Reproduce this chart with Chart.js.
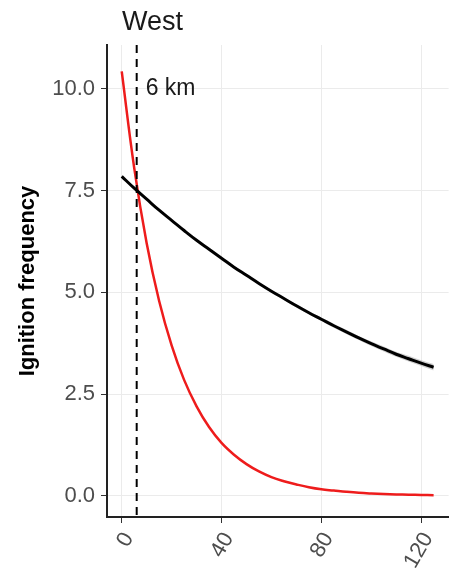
<!DOCTYPE html>
<html>
<head>
<meta charset="utf-8">
<script src="https://cdn.jsdelivr.net/npm/chart.js@4/dist/chart.umd.min.js"></script>
<style>
html,body{margin:0;padding:0;background:#fff;}
#wrap{width:449px;height:568px;position:relative;}
</style>
</head>
<body>
<div id="wrap"><canvas id="c" width="449" height="568"></canvas></div>
<script>
// Distance (km)
const distance = [0,5,10,15,20,25,30,35,40,45,50,55,60,65,70,75,80,85,90,95,100,105,110,115,120,125];
// Red curve (ignition frequency)
const redValues = [10.43,8.06,6.21,4.79,3.70,2.85,2.20,1.69,1.30,1.01,0.78,0.60,0.46,0.36,0.28,0.21,0.16,0.13,0.10,0.075,0.058,0.045,0.035,0.027,0.021,0.016];
// Black curve (ignition frequency)
const blackValues = [7.85,7.56,7.29,7.02,6.77,6.52,6.28,6.06,5.84,5.62,5.42,5.22,5.03,4.85,4.67,4.50,4.34,4.18,4.03,3.88,3.74,3.61,3.48,3.37,3.26,3.16];
// Black confidence band half-width
const blackBand = [0.02,0.02,0.02,0.02,0.02,0.02,0.02,0.02,0.02,0.03,0.03,0.03,0.03,0.03,0.04,0.04,0.04,0.05,0.05,0.05,0.06,0.06,0.06,0.07,0.07,0.08];
const xTicks = [0,40,80,120];
const yTicks = [0,2.5,5,7.5,10];
const cutoffKm = 6;
const panelTitle = "West";
const cutoffLabel = "6 km";
const yTitle = "Ignition frequency";

const pts = (vals) => distance.map((d,i)=>({x:d,y:vals[i]}));
const upper = pts(blackValues.map((v,i)=>v+blackBand[i]));
const lower = pts(blackValues.map((v,i)=>v-blackBand[i]));

const FONT = "'Liberation Sans', Arial, sans-serif";

const overlay = {
  id:'overlay',
  afterDatasetsDraw(chart){
    const {ctx, chartArea, scales} = chart;
    const x = scales.x.getPixelForValue(cutoffKm);
    ctx.save();
    ctx.beginPath();
    ctx.rect(chartArea.left, chartArea.top, chartArea.right-chartArea.left, chartArea.bottom-chartArea.top);
    ctx.clip();
    ctx.strokeStyle = '#000';
    ctx.lineWidth = 2;
    ctx.setLineDash([8,6]);
    ctx.beginPath();
    ctx.moveTo(x, chartArea.top);
    ctx.lineTo(x, chartArea.bottom);
    ctx.stroke();
    ctx.restore();
    ctx.save();
    ctx.fillStyle = '#1a1a1a';
    ctx.font = "23px " + FONT;
    ctx.textBaseline = 'middle';
    ctx.textAlign = 'left';
    ctx.fillText(cutoffLabel, x + 9, scales.y.getPixelForValue(10));
    ctx.restore();
  },
  afterDraw(chart){
    const {ctx, chartArea} = chart;
    ctx.save();
    ctx.fillStyle = '#1a1a1a';
    ctx.font = "27px " + FONT;
    ctx.textBaseline = 'alphabetic';
    ctx.textAlign = 'left';
    ctx.fillText(panelTitle, chartArea.left + 15, 30);
    ctx.restore();
  }
};

new Chart(document.getElementById('c'), {
  type:'line',
  data:{
    datasets:[
      {label:'band upper', order:3, data:upper, borderWidth:0, pointRadius:0, fill:false, tension:0.4, borderColor:'rgba(0,0,0,0)'},
      {label:'band lower', order:2, data:lower, borderWidth:0, pointRadius:0, fill:'-1', backgroundColor:'rgba(150,150,150,0.45)', tension:0.4, borderColor:'rgba(0,0,0,0)'},
      {label:'black', order:0, data:pts(blackValues), borderColor:'#000', borderWidth:3, pointRadius:0, fill:false, tension:0.4},
      {label:'red', order:1, data:pts(redValues), borderColor:'#ee1c1c', borderWidth:2.5, pointRadius:0, fill:false, tension:0.4}
    ]
  },
  options:{
    responsive:false,
    animation:false,
    layout:{padding:{top:45,right:0,left:0,bottom:0}},
    plugins:{legend:{display:false}, tooltip:{enabled:false}, title:{display:false}},
    scales:{
      x:{
        type:'linear', min:-5.9, max:131,
        afterBuildTicks(s){ s.ticks = xTicks.map(v=>({value:v})); },
        afterFit(s){ s.height = 51; },
        grid:{color:'#ebebeb', lineWidth:1, tickLength:6, tickColor:'#333'},
        border:{display:true, color:'#222', width:2},
        ticks:{color:'#4d4d4d', font:{family:FONT, size:22}, minRotation:60, maxRotation:60, padding:5, labelOffset:7, autoSkip:false}
      },
      y:{
        type:'linear', min:-0.52, max:11.08,
        afterBuildTicks(s){ s.ticks = yTicks.map(v=>({value:v})); },
        afterFit(s){ s.width = 107; },
        grid:{color:'#ebebeb', lineWidth:1, tickLength:6, tickColor:'#333'},
        border:{display:true, color:'#222', width:2},
        ticks:{color:'#4d4d4d', font:{family:FONT, size:22}, padding:6, callback:(v)=>Number(v).toFixed(1)},
        title:{display:true, text:yTitle, color:'#000', font:{family:FONT, size:22, weight:'bold'}, padding:{top:15,bottom:0}}
      }
    }
  },
  plugins:[overlay]
});
</script>
</body>
</html>
